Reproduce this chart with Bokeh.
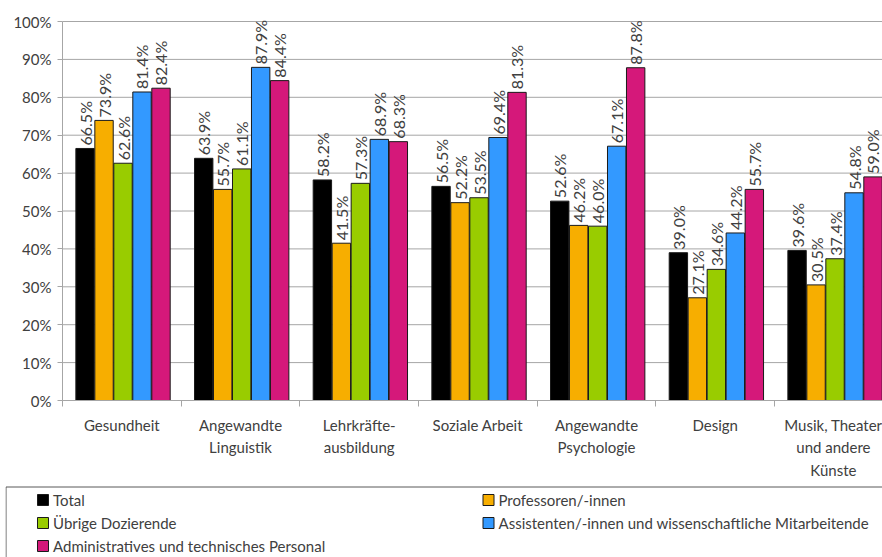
import numpy as np
from bokeh.plotting import figure
from bokeh.models import ColumnDataSource, Range1d, FixedTicker, PrintfTickFormatter, LabelSet
from bokeh.core.properties import value
from bokeh.embed import file_html
from bokeh.resources import INLINE

# --- data -------------------------------------------------------------
categories = [
    "Gesundheit",
    "Angewandte\nLinguistik",
    "Lehrkräfte-\nausbildung",
    "Soziale Arbeit",
    "Angewandte\nPsychologie",
    "Design",
    "Musik, Theater\nund andere\nKünste",
]
series = [
    "Total",
    "Professoren/-innen",
    "Übrige Dozierende",
    "Assistenten/-innen und wissenschaftliche Mitarbeitende",
    "Administratives und technisches Personal",
]
colors = ["#000000", "#F7AE00", "#99CC00", "#3399FF", "#D5187A"]

total = [66.5, 63.9, 58.2, 56.5, 52.6, 39.0, 39.6]
professoren = [73.9, 55.7, 41.5, 52.2, 46.2, 27.1, 30.5]
dozierende = [62.6, 61.1, 57.3, 53.5, 46.0, 34.6, 37.4]
assistenten = [81.4, 87.9, 68.9, 69.4, 67.1, 44.2, 54.8]
personal = [82.4, 84.4, 68.3, 81.3, 87.8, 55.7, 59.0]

y_ticks = list(range(0, 101, 10))

# --- styling / geometry ------------------------------------------------
FONT = "Lato"
TEXT_COLOR = "#404040"
GRID_COLOR = "#A6A6A6"
OUTLINE = "#1A1A1A"

W, H = 882, 557
FRAME_LEFT = 5                          # canvas pixels
AXIS_X, AXIS_Y, TOP_Y = 62, 400, 21     # canvas pixels of x=0, y=0 and y=100
X_END, Y_END = 6.91, 100

px_per_x = (W - AXIS_X) / X_END
px_per_y = (AXIS_Y - TOP_Y) / Y_END


def data_x(px):
    return (px - AXIS_X) / px_per_x


def data_y(py):
    return (AXIS_Y - py) / px_per_y


n_cat = len(categories)
bar_w = 0.155
step = 0.16
first_off = 0.19

# one frame covering plot area, category labels and legend
p = figure(
    width=W, height=H,
    x_range=Range1d(data_x(FRAME_LEFT), X_END), y_range=Range1d(data_y(H), data_y(0)),
    min_border_left=FRAME_LEFT, min_border_right=0, min_border_top=0,
    min_border_bottom=0,
    toolbar_location=None, output_backend="svg",
)
p.outline_line_color = None
p.xgrid.visible = False
p.ygrid.visible = False

# horizontal gridlines across the plot area only
p.segment(x0=0, x1=X_END, y0=y_ticks, y1=y_ticks, line_color=GRID_COLOR, line_width=1)

for j, (name, vals, col) in enumerate(
        zip(series, [total, professoren, dozierende, assistenten, personal], colors)):
    src = ColumnDataSource(dict(
        x=[i + first_off + step * j for i in range(n_cat)],
        top=vals,
        label=[f"{v:.1f}%" for v in vals],
    ))
    p.vbar(x="x", top="top", bottom=0, width=bar_w, source=src,
           fill_color=col, line_color=OUTLINE, line_width=1)
    p.add_layout(LabelSet(
        x="x", y="top", text="label", source=src,
        angle=np.pi / 2, text_align="left", text_baseline="middle",
        y_offset=3, text_font=value(FONT), text_font_size="16px",
        text_color=TEXT_COLOR,
    ))

# value axis pinned at x = 0
yax = p.yaxis[0]
yax.fixed_location = 0
yax.bounds = (0, Y_END)
yax.ticker = FixedTicker(ticks=y_ticks)
yax.formatter = PrintfTickFormatter(format="%d%%")
yax.major_tick_in = 0
yax.major_tick_out = 5
yax.minor_tick_line_color = None
yax.axis_line_color = GRID_COLOR
yax.major_tick_line_color = GRID_COLOR
yax.major_label_standoff = 6
yax.major_label_text_font = FONT
yax.major_label_text_font_size = "15px"
yax.major_label_text_color = TEXT_COLOR

# category axis pinned at y = 0: labels at group centres, separators at boundaries
centres = [i + 0.5 for i in range(n_cat)]
xax = p.xaxis[0]
xax.fixed_location = 0
xax.bounds = (0, X_END)
xax.ticker = FixedTicker(ticks=centres, minor_ticks=list(range(n_cat + 1)))
xax.major_label_overrides = {c: lab for c, lab in zip(centres, categories)}
xax.major_tick_in = 0
xax.major_tick_out = 0
xax.minor_tick_in = 0
xax.minor_tick_out = 6
xax.minor_tick_line_color = GRID_COLOR
xax.axis_line_color = GRID_COLOR
xax.major_label_standoff = 9
xax.major_label_text_font = FONT
xax.major_label_text_font_size = "15px"
xax.major_label_text_color = TEXT_COLOR
xax.major_label_text_line_height = 1.27

# --- legend: two columns inside a box whose right/bottom sides run off the page
box_l, box_t = data_x(5.5), data_y(486.5)
p.line(x=[box_l, box_l, X_END], y=[data_y(H + 5), box_t, box_t],
       line_color="#595959", line_width=1)

col_idx = [i % 2 for i in range(len(series))]
row_idx = [i // 2 for i in range(len(series))]
sq_px = [42.5 + 445.5 * c for c in col_idx]
sq_py = [499.5 + 23 * r for r in row_idx]
p.rect(x=[data_x(v) for v in sq_px], y=[data_y(v) for v in sq_py],
       width=11, height=11, width_units="screen", height_units="screen",
       fill_color=colors, line_color=OUTLINE, line_width=1)
p.text(x=[data_x(v + 10) for v in sq_px], y=[data_y(v) for v in sq_py], text=series,
       text_align="left", text_baseline="middle",
       text_font=value(FONT), text_font_size="15px", text_color=TEXT_COLOR)

with open("out.html", "w") as f:
    f.write(file_html(p, INLINE))
